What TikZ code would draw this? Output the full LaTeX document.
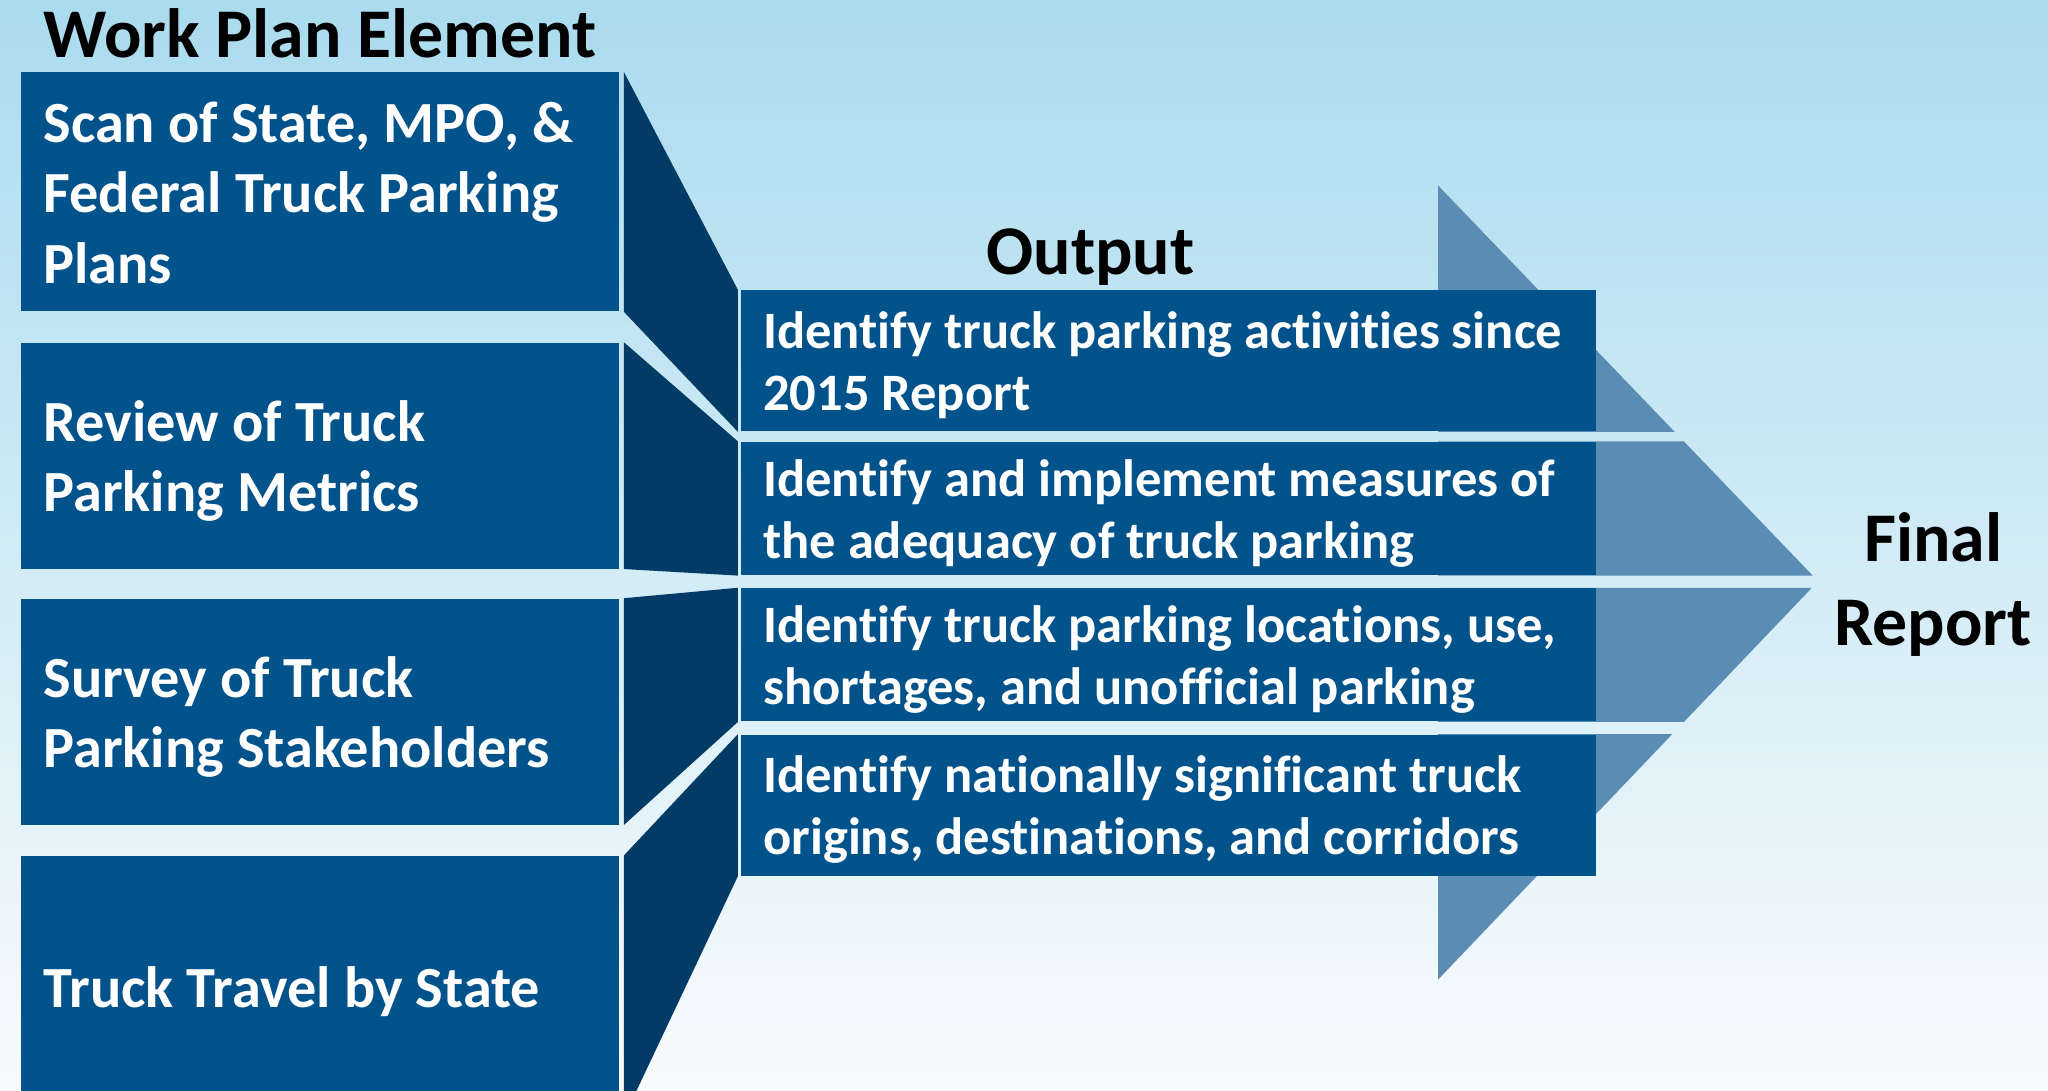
\documentclass[tikz,border=0pt]{standalone}
\usepackage{fontspec}
\setmainfont{Carlito}[Ligatures=NoCommon]
\usetikzlibrary{backgrounds}
\definecolor{boxblue}{RGB}{2,82,139}
\definecolor{trapblue}{RGB}{2,59,102}
\definecolor{steel}{RGB}{91,141,180}
\definecolor{skytop}{RGB}{170,219,238}
\definecolor{skymid}{RGB}{210,236,246}
\definecolor{skybot}{RGB}{248,251,253}
\newcommand\tstrut{\rule{0pt}{0.8\baselineskip}}
\newcommand\bstrut{\rule[-0.2\baselineskip]{0pt}{0.2\baselineskip}}
\begin{document}
\begin{tikzpicture}[x=0.02cm, y=-0.02cm,
  lbox/.style={anchor=north west, fill=boxblue, text=white, align=left,
    font=\bfseries\fontsize{25.4}{30.6}\selectfont, text width=8.48cm,
    inner xsep=0.34cm, inner ysep=0pt, minimum width=9.16cm,
    execute at begin node={\spaceskip=0pt\xspaceskip=0pt\relax}},
  obox/.style={anchor=north west, fill=boxblue, text=white, align=left,
    font=\bfseries\fontsize{22.9}{27.2}\selectfont, text width=12.42cm,
    inner xsep=0.34cm, inner ysep=0pt, minimum width=13.1cm,
    execute at begin node={\spaceskip=0pt\xspaceskip=0pt\relax}},
  ttl/.style={text=black, font=\bfseries\fontsize{30.4}{36.8}\selectfont, inner sep=0pt,
    execute at begin node={\spaceskip=0pt\xspaceskip=0pt\relax}},
  trap/.style={fill=trapblue},
  arrowhead/.style={fill=steel}]
\coordinate (L) at (0,0);
\coordinate (R) at (1568,835);
\useasboundingbox (L) rectangle (R);
\clip (L) rectangle (R);

% titles
\node[ttl, anchor=base west] (wpe) at (33,44) {Work Plan Element};
\node[ttl, anchor=base] (out) at (835,210) {Output};
\node[ttl, align=center] (fin) at (1480,449) {\strut Final\\Report\strut};

% left work plan boxes
\node[lbox, minimum height=3.66cm] (b1) at (16,55) {\tstrut Scan of State, MPO, \&\\Federal Truck Parking\\Plans\bstrut};
\node[lbox, minimum height=3.46cm] (b2) at (16,262) {\tstrut Review of Truck\\Parking Metrics\bstrut};
\node[lbox, minimum height=3.46cm] (b3) at (16,458) {\tstrut Survey of Truck\\Parking Stakeholders\bstrut};
\node[lbox, minimum height=4.0cm] (b4) at (16,655) {\tstrut Truck Travel by State\bstrut};

% output strips
\node[obox, minimum height=2.16cm] (o1) at (567,222) {\tstrut Identify truck parking activities since\\2015 Report\bstrut};
\node[obox, minimum height=2.04cm] (o2) at (567,338) {\tstrut Identify and implement measures of\\the adequacy of truck parking\bstrut};
\node[obox, minimum height=2.04cm] (o3) at (567,450) {\tstrut Identify truck parking locations, use,\\shortages, and unofficial parking\bstrut};
\node[obox, minimum height=2.16cm] (o4) at (567,562) {\tstrut Identify nationally significant truck\\origins, destinations, and corridors\bstrut};

\coordinate (ta) at (1101,142);
\coordinate (tip) at (1392,445);
\coordinate (tb) at (1101,750);

\begin{pgfonlayer}{background}
  \shade[top color=skytop, middle color=skymid, bottom color=skybot] (L) rectangle (R);
  \begin{scope}
    \clip (L) rectangle (o1.south -| R)
          (o2.north -| L) rectangle (o2.south -| R)
          (o3.north -| L) rectangle (o3.south -| R)
          (o4.north -| L) rectangle (R);
    \fill[arrowhead] (ta) -- (tip) -- (tb) -- cycle;
  \end{scope}
  \foreach \i in {1,...,4}
    \fill[trap] ([xshift=0.06cm]b\i.north east) -- ([xshift=-0.04cm]o\i.north west)
      -- ([xshift=-0.04cm]o\i.south west) -- ([xshift=0.06cm]b\i.south east) -- cycle;
\end{pgfonlayer}
\end{tikzpicture}
\end{document}
